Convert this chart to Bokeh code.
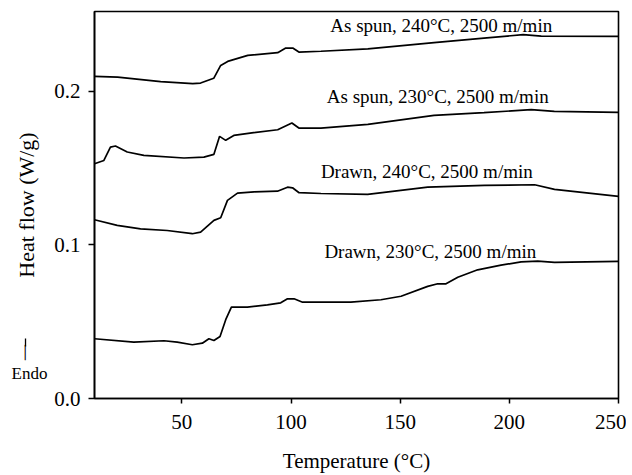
from bokeh.plotting import figure
from bokeh.models import (Range1d, Arrow, NormalHead, Label, LinearAxis, ColumnDataSource,
                          NumeralTickFormatter, FixedTicker)
from bokeh.core.properties import value
from bokeh.embed import file_html
from bokeh.resources import INLINE

# As spun, 240°C
x_as240 = [10, 20.6, 40.3, 55, 58.6, 64.6, 67.8, 71, 80.2, 93.9, 97.6, 100.8, 103.6, 113.7, 135.2, 165.5, 188.4, 206.3, 214.6, 250]
y_as240 = [0.2098, 0.2093, 0.2063, 0.2050, 0.2054, 0.2085, 0.2169, 0.2195, 0.2234, 0.2252, 0.2282, 0.2282, 0.2256, 0.2261, 0.2277, 0.2317, 0.2347, 0.2369, 0.2360, 0.2358]

# As spun, 230°C
x_as230 = [10, 14.3, 17.3, 19.6, 25, 32.6, 51, 60.1, 64.7, 67.3, 70.1, 73.8, 82.9, 93.9, 100.4, 103.6, 113.7, 135.2, 165.5, 188.4, 210, 220.6, 250]
y_as230 = [0.1529, 0.1550, 0.1637, 0.1644, 0.1605, 0.1583, 0.1566, 0.1572, 0.1590, 0.1707, 0.1681, 0.1713, 0.1731, 0.1750, 0.1794, 0.1761, 0.1761, 0.1785, 0.1844, 0.1861, 0.1881, 0.1870, 0.1863]

# Drawn, 240°C
x_dr240 = [10, 20.4, 31.1, 43.3, 54.8, 58.6, 64.7, 67.8, 70.9, 75.5, 83.1, 93.8, 98.4, 100.7, 103.7, 113.7, 135.1, 162.6, 188.6, 211.6, 220.7, 250]
y_dr240 = [0.1164, 0.1127, 0.1105, 0.1094, 0.1073, 0.1083, 0.1160, 0.1177, 0.1290, 0.1337, 0.1346, 0.1350, 0.1376, 0.1372, 0.1340, 0.1335, 0.1329, 0.1376, 0.1388, 0.1392, 0.1362, 0.1316]

# Drawn, 230°C
x_dr230 = [10, 28, 41.8, 47.9, 54.8, 59.4, 62.4, 64.7, 67.5, 70.1, 72.7, 80, 89.2, 95.3, 98.4, 101.4, 105.3, 113.7, 127.4, 141.2, 150.4, 162.6, 167.2, 171, 176.4, 185.5, 196.2, 205.4, 213, 220.7, 250]
y_dr230 = [0.0389, 0.0367, 0.0376, 0.0367, 0.0350, 0.0360, 0.0389, 0.0378, 0.0404, 0.0513, 0.0595, 0.0595, 0.0610, 0.0623, 0.0649, 0.0649, 0.0627, 0.0627, 0.0627, 0.0643, 0.0666, 0.0730, 0.0747, 0.0747, 0.0790, 0.0838, 0.0868, 0.0890, 0.0894, 0.0886, 0.0893]

label_text = ["As spun, 240°C, 2500 m/min", "As spun, 230°C, 2500 m/min",
              "Drawn, 240°C, 2500 m/min", "Drawn, 230°C, 2500 m/min"]
label_x = [168.8, 167.2, 162.2, 163.8]
label_y = [0.2432, 0.1964, 0.1475, 0.0954]

x_ticks = [50, 100, 150, 200, 250]
y_ticks = [0.0, 0.1, 0.2]

endo_text = "Endo"
endo_y = 0.0163
arrow_x = -21.6
arrow_y = [0.0235, 0.0391]
shaft_y = 0.0297

FONT = "Liberation Serif"

p = figure(width=626, height=475, output_backend="svg", toolbar_location=None,
           x_range=Range1d(10, 250), y_range=Range1d(0, 0.252),
           min_border_left=94, min_border_right=8, min_border_top=11, min_border_bottom=77)
p.background_fill_color = "white"
p.border_fill_color = "white"
p.grid.visible = False
p.outline_line_color = "black"
p.outline_line_width = 1.6

for xs, ys in [(x_as240, y_as240), (x_as230, y_as230), (x_dr240, y_dr240), (x_dr230, y_dr230)]:
    p.line(xs, ys, line_color="black", line_width=1.7)

src = ColumnDataSource(dict(x=label_x, y=label_y, t=label_text))
p.text(x="x", y="y", text="t", source=src, text_font=value(FONT), text_font_size="19px",
       text_align="center", text_baseline="middle", text_color="black")

for ax in (p.xaxis[0], p.yaxis[0]):
    ax.axis_line_color = "black"
    ax.axis_line_width = 1.6
    ax.major_tick_line_color = "black"
    ax.major_tick_line_width = 1.5
    ax.major_tick_in = 0
    ax.minor_tick_line_color = None
    ax.major_label_text_font = FONT
    ax.major_label_text_font_size = "21px"
    ax.major_label_text_color = "black"
    ax.axis_label_text_font = FONT
    ax.axis_label_text_font_style = "normal"
    ax.axis_label_text_color = "black"

p.xaxis.major_tick_out = 5
p.yaxis.major_tick_out = 6
p.xaxis.ticker = FixedTicker(ticks=x_ticks)
p.yaxis.ticker = FixedTicker(ticks=y_ticks)
p.yaxis.formatter = NumeralTickFormatter(format="0.0")
p.xaxis.major_label_standoff = 11
p.yaxis.major_label_standoff = 8
p.xaxis.axis_label = "Temperature (°C)"
p.yaxis.axis_label = "Heat flow (W/g)"
p.xaxis.axis_label_text_font_size = "21px"
p.yaxis.axis_label_text_font_size = "22px"
p.xaxis.axis_label_standoff = 17
p.yaxis.axis_label_standoff = 12

# "Endo" written as the only label of an invisible extra left axis (side panels are not clipped)
endo_axis = LinearAxis(ticker=FixedTicker(ticks=[endo_y]),
                       major_label_overrides={endo_y: endo_text},
                       axis_line_color=None, major_tick_line_color=None,
                       minor_tick_line_color=None, major_tick_in=0, major_tick_out=0,
                       major_label_standoff=-36,
                       major_label_text_font=FONT, major_label_text_font_size="17px",
                       major_label_text_color="black")
p.add_layout(endo_axis, "left")

# arrow shaft: a thin vertical line character in the left side panel
p.add_layout(Label(x=arrow_x, y=shaft_y, text="\u2502", text_font="DejaVu Sans Mono",
                   text_font_size="13px", text_align="center", text_baseline="middle",
                   text_color="black"), "left")

# arrow head
p.add_layout(Arrow(end=NormalHead(size=8, fill_color="black", line_color="black"),
                   x_start=arrow_x, y_start=arrow_y[0], x_end=arrow_x, y_end=arrow_y[1],
                   line_width=1.3, line_color="black"))

open("out.html", "w").write(file_html(p, INLINE))
